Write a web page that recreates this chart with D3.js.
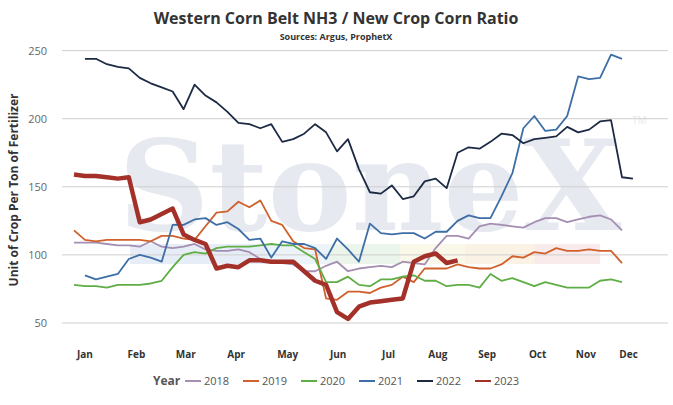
<!DOCTYPE html>
<html><head><meta charset="utf-8">
<script src="https://cdn.jsdelivr.net/npm/d3@7"></script>
<style>body{margin:0;background:#fff}svg{font-family:"Open Sans",Arial,sans-serif}</style>
</head><body><svg id="c" width="673" height="405"></svg>
<script>
const years=["2018","2019","2020","2021","2022","2023"];
const colors=["#a48fb3","#d0612c","#5fae45","#3e6ea6","#1d2a44","#a3312a"];
const months=["Jan","Feb","Mar","Apr","May","Jun","Jul","Aug","Sep","Oct","Nov","Dec"];
const yTicks=[50,100,150,200,250];
const s2018=[109,109,109,108,107,107,106,110,106,105,106,108,104,103,103,104,102,97,94,94,93,88,88,92,95,88,90,91,92,91,95,94,93,105,114,114,112,121,123,122,121,120,124,127,127,124,126,128,129,126,118];
const s2019=[118,111,110,111,111,111,111,110,114,114,112,111,121,131,132,139,135,140,125,122,110,105,104,68,67,73,73,72,76,78,84,80,90,90,90,93,91,90,90,93,99,98,102,101,105,103,103,104,103,103,94];
const s2020=[78,77,77,76,78,78,78,79,81,91,100,102,101,105,106,106,106,107,108,107,107,102,97,80,80,84,78,77,82,82,84,85,81,81,77,78,78,76,86,81,83,80,77,80,78,76,76,76,81,82,80];
const s2021=[null,85,82,84,86,97,100,98,95,122,122,126,127,122,124,119,111,112,98,110,108,108,105,97,112,104,95,123,116,115,116,116,112,117,117,125,129,127,127,143,160,193,202,191,192,202,231,229,230,247,244];
const s2022=[null,244,244,240,238,237,230,226,223,220,207,225,217,212,205,197,196,193,196,183,185,189,196,190,176,185,163,146,145,151,141,143,154,156,149,175,179,178,183,189,188,182,185,186,187,194,190,192,198,199,157,156];
const s2023=[159,158,158,157,156,157,124,126,130,134,115,111,108,90,92,91,96,96,95,95,95,88,81,78,58,53,62,65,66,67,68,95,99,101,94,96];
const series=[s2018,s2019,s2020,s2021,s2022,s2023];
const monthWeek=[1,5.7,10.2,14.8,19.5,24.1,28.7,33.2,37.7,42.3,46.7,50.6];

const svg=d3.select("#c");
const x=d3.scaleLinear().domain([0,50]).range([74,622]);
const y=d3.scaleLinear().domain([37.5,260]).range([340,37]);

const bands=[[130,265,"#c9d8ea"],[265,330,"#d6e6f2"],[330,400,"#d3e8d3"],[400,465,"#f3f0cc"],[465,535,"#f7e2c8"],[535,600,"#f2d0d4"]];
svg.selectAll("rect.b").data(bands).join("rect").attr("x",d=>d[0]).attr("width",d=>d[1]-d[0])
 .attr("y",244).attr("height",20).attr("fill",d=>d[2]).attr("opacity",0.45);
svg.append("text").attr("x",370).attr("y",230).attr("text-anchor","middle")
 .attr("font-family","DejaVu Serif,serif").attr("font-weight","bold").attr("font-size",126).attr("fill","#e6e9ef").text("StoneX");
svg.append("text").attr("x",632).attr("y",124).attr("font-size",10).attr("fill","#e6e9ef").text("TM");

svg.selectAll("line.g").data(yTicks).join("line").attr("x1",62).attr("x2",668)
 .attr("y1",d=>y(d)).attr("y2",d=>y(d)).attr("stroke","#cfcfcf");
svg.selectAll("text.yt").data(yTicks).join("text").attr("x",47).attr("y",d=>y(d)+4)
 .attr("text-anchor","end").attr("font-size",11).attr("fill","#666").text(d=>d);
svg.selectAll("text.m").data(months).join("text").attr("x",(d,i)=>x(monthWeek[i])).attr("y",358)
 .attr("text-anchor","middle").attr("font-size",10).attr("font-weight","bold").attr("fill","#333").text(d=>d);

const line=d3.line().defined(d=>d!=null).x((d,i)=>x(i)).y(d=>y(d));
series.forEach((s,k)=>{
 svg.append("path").datum(s).attr("d",line).attr("fill","none").attr("stroke",colors[k])
  .attr("stroke-width",k==5?4.5:1.8).attr("stroke-linejoin","round");
});

svg.append("text").attr("x",336).attr("y",24).attr("text-anchor","middle").attr("font-size",16)
 .attr("font-weight","bold").attr("fill","#333").text("Western Corn Belt NH3 / New Crop Corn Ratio");
svg.append("text").attr("x",336).attr("y",40).attr("text-anchor","middle").attr("font-size",9)
 .attr("font-weight","bold").attr("fill","#333").text("Sources: Argus, ProphetX");
svg.append("text").attr("transform","translate(18,190) rotate(-90)").attr("text-anchor","middle")
 .attr("font-size",12).attr("font-weight","bold").attr("fill","#333").text("Unit of Crop Per Ton of Fertilizer");

const lg=svg.append("g").attr("transform","translate(153,385)");
lg.append("text").attr("x",0).attr("y",0).attr("font-size",12).attr("font-weight","bold").attr("fill","#555").text("Year");
years.forEach((yy,i)=>{
 const gx=32+i*58;
 lg.append("line").attr("x1",gx).attr("x2",gx+16).attr("y1",-4).attr("y2",-4).attr("stroke",colors[i]).attr("stroke-width",2);
 lg.append("text").attr("x",gx+19).attr("y",0).attr("font-size",11).attr("fill","#555").text(yy);
});
</script></body></html>
